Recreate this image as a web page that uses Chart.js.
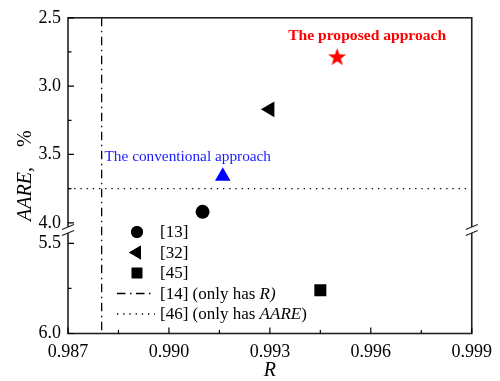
<!DOCTYPE html>
<html>
<head>
<meta charset="utf-8">
<script src="https://cdn.jsdelivr.net/npm/chart.js@4.4.1/dist/chart.umd.min.js"></script>
<style>
  html, body { margin: 0; background: #fff; }
  #wrap { width: 500px; height: 381px; }
</style>
</head>
<body>
<div id="wrap"><canvas id="aareChart"></canvas></div>
<script>
// Reference methods: R and AARE (%)
const refLabels = ['[13]', '[32]', '[45]'];
const refR = [0.991, 0.993, 0.9945];
const refAARE = [3.92, 3.17, 5.76];
const refStyles = ['circle', 'triangle', 'rect'];

// Methods that report only one of the two metrics
const onlyR = 0.988;     // [14]
const onlyAARE = 3.75;   // [46]

// The two approaches of the paper
const conventionalPoint = [0.9916, 3.66];
const proposedPoint = [0.995, 2.79];

// Axis ticks
const xTicks = [0.987, 0.990, 0.993, 0.996, 0.999];
const xMinorTicks = [0.9885, 0.9915, 0.9945, 0.9975];
const yTicks = [2.5, 3.0, 3.5, 4.0, 5.5, 6.0];
const yMinorTicks = [2.75, 3.25, 3.75, 5.75];

// Broken y axis: the band 4.0 .. 5.5 is cut out
const BREAK_LOW = 4.0;
const BREAK_HIGH = 5.5;
const BREAK_GAP = 0.15;
const LOWER_STRETCH = 1.32;

const SERIF = '"Liberation Serif", "Times New Roman", serif';

// map a real AARE value onto the continuous axis
function toAxis(v) {
    if (v <= BREAK_LOW) return v;
    return BREAK_LOW + BREAK_GAP + (v - BREAK_HIGH) * LOWER_STRETCH;
}

// filled five point star used as point style
function makeStar(r, color) {
    const size = Math.ceil(r * 2) + 2;
    const c = document.createElement('canvas');
    c.width = size;
    c.height = size;
    const g = c.getContext('2d');
    g.translate(size / 2, size / 2);
    g.beginPath();
    for (let i = 0; i < 10; i++) {
        const rad = i % 2 === 0 ? r : r * 0.4;
        const a = -Math.PI / 2 + i * Math.PI / 5;
        g.lineTo(Math.cos(a) * rad, Math.sin(a) * rad);
    }
    g.closePath();
    g.fillStyle = color;
    g.fill();
    return c;
}

const refRadius = [7, 9, 8.5];
const refRotation = [0, -90, 0];

const datasets = refLabels.map((label, i) => ({
    label: label,
    data: [{ x: refR[i], y: toAxis(refAARE[i]) }],
    pointStyle: refStyles[i],
    pointRadius: refRadius[i],
    rotation: refRotation[i],
    backgroundColor: '#000',
    borderColor: '#000',
    borderWidth: 0
}));

datasets.push({
    label: '[14]',
    data: [{ x: onlyR, y: toAxis(yTicks[0]) }, { x: onlyR, y: toAxis(yTicks[yTicks.length - 1]) }],
    showLine: true,
    pointRadius: 0,
    borderColor: '#000',
    borderWidth: 1.3,
    borderDash: [8.5, 4.5, 1.5, 4.5]
});
datasets.push({
    label: '[46]',
    data: [{ x: xTicks[0], y: toAxis(onlyAARE) }, { x: xTicks[xTicks.length - 1], y: toAxis(onlyAARE) }],
    showLine: true,
    pointRadius: 0,
    borderColor: '#000',
    borderWidth: 1.3,
    borderDash: [1.3, 4.9]
});
datasets.push({
    label: 'The conventional approach',
    data: [{ x: conventionalPoint[0], y: toAxis(conventionalPoint[1]) }],
    pointStyle: 'triangle',
    pointRadius: 9,
    backgroundColor: '#0000ff',
    borderColor: '#0000ff',
    borderWidth: 0
});
datasets.push({
    label: 'The proposed approach',
    data: [{ x: proposedPoint[0], y: toAxis(proposedPoint[1]) }],
    pointStyle: makeStar(9.5, '#ff0000'),
    pointRadius: 9.5
});

// legend rows: [dataset index, text parts [text, italic]]
const legendRows = [
    [0, [['[13]', false]]],
    [1, [['[32]', false]]],
    [2, [['[45]', false]]],
    [3, [['[14] (only has ', false], ['R)', true]]],
    [4, [['[46] (only has ', false], ['AARE', true], [')', false]]]
];

function drawParts(ctx, parts, x, y, size) {
    parts.forEach(([text, italic]) => {
        ctx.font = (italic ? 'italic ' : '') + size + 'px ' + SERIF;
        ctx.fillText(text, x, y);
        x += ctx.measureText(text).width;
    });
}

const decorPlugin = {
    id: 'decor',
    afterDatasetsDraw(chart) {
        const ctx = chart.ctx;
        const xs = chart.scales.x;
        const ys = chart.scales.y;
        const a = chart.chartArea;
        const breakY = (ys.getPixelForValue(toAxis(BREAK_LOW)) + ys.getPixelForValue(toAxis(BREAK_HIGH))) / 2 - 6;
        ctx.save();

        // frame
        ctx.strokeStyle = '#222';
        ctx.lineWidth = 1.6;
        ctx.strokeRect(a.left, a.top, a.right - a.left, a.bottom - a.top);

        // inward ticks
        ctx.lineWidth = 1.2;
        ctx.strokeStyle = '#000';
        ctx.beginPath();
        xTicks.forEach(v => { const p = xs.getPixelForValue(v); ctx.moveTo(p, a.bottom); ctx.lineTo(p, a.bottom - 6); });
        xMinorTicks.forEach(v => { const p = xs.getPixelForValue(v); ctx.moveTo(p, a.bottom); ctx.lineTo(p, a.bottom - 3.5); });
        yTicks.forEach(v => { const p = ys.getPixelForValue(toAxis(v)); ctx.moveTo(a.left, p); ctx.lineTo(a.left + 6, p); });
        yMinorTicks.forEach(v => { const p = ys.getPixelForValue(toAxis(v)); ctx.moveTo(a.left, p); ctx.lineTo(a.left + 3.5, p); });
        ctx.stroke();

        // axis break marks on both sides
        [a.left, a.right].forEach(x => {
            ctx.fillStyle = '#fff';
            ctx.fillRect(x - 2, breakY, 4, 6);
            ctx.strokeStyle = '#222';
            ctx.lineWidth = 1.2;
            ctx.beginPath();
            [breakY, breakY + 6].forEach(y => { ctx.moveTo(x - 6, y + 2.5); ctx.lineTo(x + 6, y - 2.5); });
            ctx.stroke();
        });

        // annotation texts
        ctx.textAlign = 'center';
        ctx.textBaseline = 'middle';
        const cx = xs.getPixelForValue(conventionalPoint[0]);
        const cy = ys.getPixelForValue(toAxis(conventionalPoint[1]));
        ctx.fillStyle = '#1a1aff';
        ctx.font = '15.3px ' + SERIF;
        ctx.fillText('The conventional approach', cx - 35, cy - 19);
        const px = xs.getPixelForValue(proposedPoint[0]);
        const py = ys.getPixelForValue(toAxis(proposedPoint[1]));
        ctx.fillStyle = '#ff0000';
        ctx.font = 'bold 15.6px ' + SERIF;
        ctx.fillText('The proposed approach', px + 30, py - 21);

        // legend inside the plot
        ctx.textAlign = 'left';
        ctx.fillStyle = '#000';
        legendRows.forEach(([di, parts], row) => {
            const ds = chart.data.datasets[di];
            const y = 232 + row * 20.5;
            if (ds.showLine) {
                ctx.save();
                ctx.strokeStyle = '#000';
                ctx.lineWidth = 1.3;
                ctx.setLineDash(ds.borderDash);
                ctx.beginPath();
                ctx.moveTo(117, y);
                ctx.lineTo(155, y);
                ctx.stroke();
                ctx.restore();
            } else {
                ctx.fillStyle = '#000';
                Chart.helpers.drawPoint(ctx, {
                    pointStyle: ds.pointStyle,
                    radius: ds.pointRadius - 1,
                    rotation: ds.rotation,
                    borderWidth: 0
                }, 137, y);
                ctx.fill();
            }
            ctx.fillStyle = '#000';
            drawParts(ctx, parts, 160, y + 1, 17);
        });

        // y axis title, rotated, AARE in italics
        ctx.save();
        ctx.translate(26, (a.top + a.bottom) / 2);
        ctx.rotate(-Math.PI / 2);
        ctx.textBaseline = 'middle';
        ctx.font = 'italic 20px ' + SERIF;
        const w1 = ctx.measureText('AARE,').width;
        ctx.font = '20px ' + SERIF;
        const w2 = ctx.measureText('%').width;
        const gap = 20;
        let x0 = -(w1 + gap + w2) / 2;
        ctx.font = 'italic 20px ' + SERIF;
        ctx.fillText('AARE,', x0, 0);
        ctx.font = '20px ' + SERIF;
        ctx.fillText('%', x0 + w1 + gap, 0);
        ctx.restore();

        ctx.restore();
    }
};

const ctx = document.getElementById('aareChart').getContext('2d');
const aareChart = new Chart(ctx, {
    type: 'scatter',
    data: { datasets: datasets },
    options: {
        responsive: true,
        maintainAspectRatio: false,
        animation: false,
        layout: { padding: { top: 17, right: 22.5, left: 0, bottom: 0 } },
        plugins: {
            legend: { display: false },
            tooltip: { enabled: false }
        },
        scales: {
            x: {
                type: 'linear',
                min: xTicks[0],
                max: xTicks[xTicks.length - 1],
                grid: { display: false, drawTicks: false },
                border: { display: false },
                afterBuildTicks: scale => { scale.ticks = xTicks.map(v => ({ value: v })); },
                afterFit: scale => { scale.height = 47.5; },
                ticks: {
                    autoSkip: false,
                    maxRotation: 0,
                    padding: 8,
                    color: '#000',
                    font: { family: SERIF, size: 18 },
                    callback: value => value.toFixed(3)
                },
                title: {
                    display: true,
                    text: 'R',
                    color: '#000',
                    padding: { top: 0, bottom: -2 },
                    font: { family: SERIF, size: 20, style: 'italic' }
                }
            },
            y: {
                type: 'linear',
                reverse: true,
                min: toAxis(yTicks[0]),
                max: toAxis(yTicks[yTicks.length - 1]),
                grid: { display: false, drawTicks: false },
                border: { display: false },
                afterBuildTicks: scale => { scale.ticks = yTicks.map(v => ({ value: toAxis(v) })); },
                afterFit: scale => { scale.width = 68; },
                ticks: {
                    autoSkip: false,
                    padding: 7,
                    color: '#000',
                    font: { family: SERIF, size: 18 },
                    callback: (value, index) => yTicks[index].toFixed(1)
                }
            }
        }
    },
    plugins: [decorPlugin]
});
</script>
</body>
</html>
